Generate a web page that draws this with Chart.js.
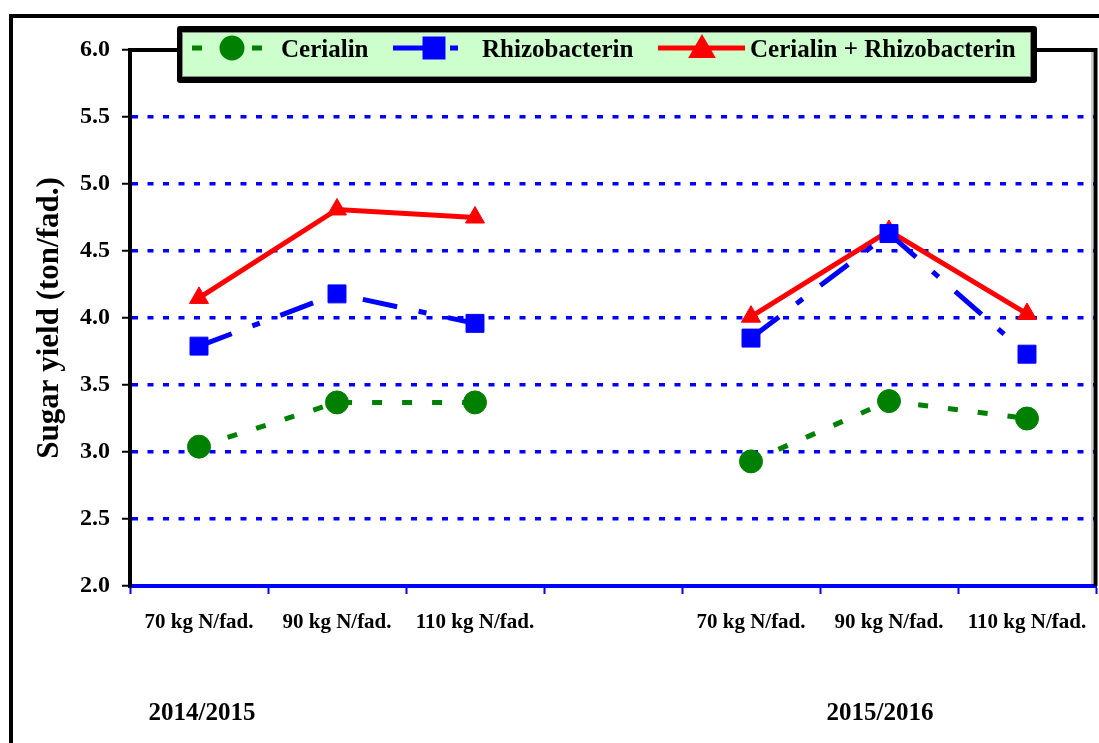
<!DOCTYPE html>
<html>
<head>
<meta charset="utf-8">
<script src="https://cdn.jsdelivr.net/npm/chart.js@4.4.1/dist/chart.umd.min.js"></script>
<style>
  html, body { margin: 0; padding: 0; background: #fff; }
  #wrap { width: 1099px; height: 743px; position: relative; }
</style>
</head>
<body>
<div id="wrap"><canvas id="yieldChart" width="1099" height="743"></canvas></div>
<script>
// categories (index 3 is the empty slot between the two seasons)
const categories = ['70 kg N/fad.', '90 kg N/fad.', '110 kg N/fad.', '', '70 kg N/fad.', '90 kg N/fad.', '110 kg N/fad.'];
const seasons = ['2014/2015', '2015/2016'];

const cerialin = [3.04, 3.37, 3.37, null, 2.93, 3.38, 3.25];
const rhizobacterin = [3.79, 4.18, 3.96, null, 3.85, 4.63, 3.73];
const combined = [4.15, 4.81, 4.75, null, 4.01, 4.65, 4.03];

const seriesNames = ['Cerialin', 'Rhizobacterin', 'Cerialin + Rhizobacterin'];

const yMin = 2.0;
const yMax = 6.0;
const yStep = 0.5;

const serif = "'Liberation Serif', 'Times New Roman', serif";

// frame, plot border, custom legend and season labels
const decorPlugin = {
    id: 'decor',
    afterDraw(chart) {
        const ctx = chart.ctx;
        const area = chart.chartArea;
        ctx.save();

        // outer frame (runs off the right and bottom edges)
        ctx.strokeStyle = '#000';
        ctx.lineWidth = 4;
        ctx.beginPath();
        ctx.moveTo(11, 743);
        ctx.lineTo(11, 16);
        ctx.lineTo(1099, 16);
        ctx.stroke();

        // plot area top and right border
        ctx.strokeStyle = '#999';
        ctx.lineWidth = 1;
        ctx.beginPath();
        ctx.moveTo(area.right - 4, area.top + 2);
        ctx.lineTo(area.right - 4, area.bottom - 2);
        ctx.stroke();
        ctx.strokeStyle = '#000';
        ctx.lineWidth = 4;
        ctx.beginPath();
        ctx.moveTo(area.left - 2, area.top);
        ctx.lineTo(area.right + 1.5, area.top);
        ctx.moveTo(area.right - 0.5, area.top - 2);
        ctx.lineTo(area.right - 0.5, area.bottom);
        ctx.stroke();

        // legend box with shadow
        ctx.fillStyle = '#000';
        ctx.beginPath();
        ctx.roundRect(177, 26, 860, 57, 3);
        ctx.fill();
        ctx.fillStyle = '#ccffcc';
        ctx.fillRect(182, 32, 849, 45);
        ctx.strokeStyle = '#888';
        ctx.lineWidth = 1;
        ctx.strokeRect(182.5, 32.5, 848, 44);

        const items = [
            { x1: 192, x2: 263, px: 232, tx: 281 },
            { x1: 393, x2: 460, px: 434, tx: 482 },
            { x1: 658, x2: 745, px: 702, tx: 750 }
        ];
        const ly = 48;
        chart.data.datasets.forEach((ds, i) => {
            const it = items[i];
            ctx.save();
            ctx.strokeStyle = ds.borderColor;
            ctx.lineWidth = ds.borderWidth;
            ctx.setLineDash(ds.borderDash || []);
            ctx.lineCap = 'butt';
            ctx.beginPath();
            ctx.moveTo(it.x1, ly);
            ctx.lineTo(it.x2, ly);
            ctx.stroke();
            ctx.setLineDash([]);
            ctx.fillStyle = ds.pointBackgroundColor;
            ctx.strokeStyle = ds.pointBorderColor;
            Chart.helpers.drawPoint(ctx, {
                pointStyle: ds.pointStyle,
                radius: ds.legendRadius,
                borderWidth: 1,
                rotation: 0
            }, it.px, ly + (ds.pointStyle === 'triangle' ? 2 : 0));
            ctx.restore();

            ctx.fillStyle = '#000';
            ctx.font = 'bold 25px ' + serif;
            ctx.textAlign = 'left';
            ctx.textBaseline = 'alphabetic';
            ctx.fillText(ds.label, it.tx, 57);
        });

        // season labels under the category labels
        const xs = chart.scales.x;
        ctx.fillStyle = '#000';
        ctx.font = 'bold 25px ' + serif;
        ctx.textAlign = 'center';
        ctx.textBaseline = 'alphabetic';
        ctx.fillText(seasons[0], xs.getPixelForValue(0) + 3, 720);
        ctx.fillText(seasons[1], xs.getPixelForValue(5) - 9, 720);

        ctx.restore();
    }
};

function makeSet(label, values, color, dash, style, radius, legendRadius) {
    return {
        label: label,
        data: values,
        borderColor: color,
        backgroundColor: color,
        borderWidth: 5,
        borderDash: dash,
        pointStyle: style,
        pointRadius: radius,
        pointHoverRadius: radius,
        pointBackgroundColor: color,
        pointBorderColor: color,
        pointBorderWidth: 1,
        legendRadius: legendRadius,
        spanGaps: false,
        tension: 0,
        fill: false
    };
}

document.addEventListener('DOMContentLoaded', () => {
    const ctx = document.getElementById('yieldChart').getContext('2d');
    new Chart(ctx, {
        type: 'line',
        data: {
            labels: categories,
            datasets: [
                makeSet(seriesNames[0], cerialin, '#008000', [10, 20], 'circle', 11.5, 10),
                makeSet(seriesNames[1], rhizobacterin, '#0000ff', [35, 22, 8, 22], 'rect', 12.7, 12.7),
                makeSet(seriesNames[2], combined, '#ff0000', [], 'triangle', 11, 11)
            ]
        },
        options: {
            responsive: false,
            animation: false,
            devicePixelRatio: 1,
            layout: { autoPadding: false, padding: { left: 0, top: 50, right: 3, bottom: 0 } },
            plugins: {
                legend: { display: false },
                tooltip: { enabled: false }
            },
            scales: {
                x: {
                    type: 'category',
                    offset: true,
                    afterFit: (scale) => {
                        scale.height = 157;
                        scale.paddingLeft = 0;
                        scale.paddingRight = 0;
                    },
                    grid: {
                        offset: true,
                        drawOnChartArea: false,
                        drawTicks: true,
                        tickLength: 8,
                        tickColor: '#0000ff',
                        tickWidth: 2
                    },
                    border: { display: true, color: '#0000ff', width: 4 },
                    ticks: {
                        color: '#000',
                        font: { family: serif, size: 21, weight: 'bold' },
                        padding: 16,
                        maxRotation: 0,
                        autoSkip: false
                    }
                },
                y: {
                    min: yMin,
                    max: yMax,
                    afterFit: (scale) => { scale.width = 130; },
                    grid: {
                        color: '#0000ff',
                        lineWidth: 3.5,
                        drawTicks: true,
                        tickLength: 8,
                        tickColor: '#000',
                        tickWidth: 2,
                        tickBorderDash: []
                    },
                    border: { display: true, color: '#000', width: 4, dash: [6, 9.5] },
                    ticks: {
                        stepSize: yStep,
                        color: '#000',
                        padding: 12,
                        font: { family: serif, size: 24, weight: 'bold' },
                        callback: (v) => Number(v).toFixed(1)
                    },
                    title: {
                        display: true,
                        text: 'Sugar yield (ton/fad.)',
                        color: '#000',
                        font: { family: serif, size: 31, weight: 'bold' },
                        padding: { top: 31, bottom: 0 }
                    }
                }
            }
        },
        plugins: [decorPlugin]
    });
});
</script>
</body>
</html>
